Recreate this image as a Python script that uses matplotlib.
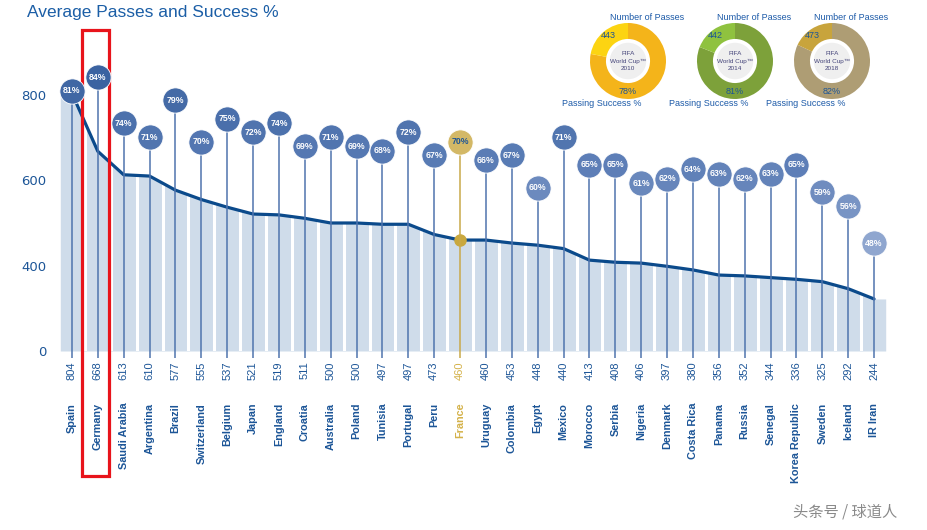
import numpy as np
import matplotlib
matplotlib.use('Agg')
import matplotlib.pyplot as plt
import matplotlib.patches as patches
import matplotlib.transforms as mtransforms
from matplotlib.colors import LinearSegmentedColormap

# Chart data
countries = ['Spain', 'Germany', 'Saudi Arabia', 'Argentina', 'Brazil', 'Switzerland',
             'Belgium', 'Japan', 'England', 'Croatia', 'Australia', 'Poland', 'Tunisia',
             'Portugal', 'Peru', 'France', 'Uruguay', 'Colombia', 'Egypt', 'Mexico',
             'Morocco', 'Serbia', 'Nigeria', 'Denmark', 'Costa Rica', 'Panama', 'Russia',
             'Senegal', 'Korea Republic', 'Sweden', 'Iceland', 'IR Iran']
passes = [804, 668, 613, 610, 577, 555, 537, 521, 519, 511, 500, 500, 497, 497, 473, 460,
          460, 453, 448, 440, 413, 408, 406, 397, 380, 356, 352, 344, 336, 325, 292, 244]
success = [81, 84, 74, 71, 79, 70, 75, 72, 74, 69, 71, 69, 68, 72, 67, 70,
           66, 67, 60, 71, 65, 65, 61, 62, 64, 63, 62, 63, 65, 59, 56, 48]
y_ticks = [0, 400, 600, 800]

# World Cup summary donuts
cups = ['2010', '2014', '2018']
cup_passes = ['443', '442', '473']
cup_success = [78, 81, 82]
cup_colors = [('#f4b41a', '#fcd412'), ('#7da13a', '#8fc23f'), ('#ae9d74', '#c8a43c')]

highlight = 'France'
boxed = 'Germany'

W, H = 928, 530
BLUE = '#1c5597'
GOLD = '#d3b866'


def fx(x):
    return x / W


def fy(y):
    return 1 - y / H


# piecewise axis: 0-400 squeezed to same spacing as 200 steps
def fwd(v):
    v = np.asarray(v, dtype=float)
    return np.where(v < 400, v / 400, 1 + (v - 400) / 200)


def inv(u):
    u = np.asarray(u, dtype=float)
    return np.where(u < 1, u * 400, 400 + (u - 1) * 200)


fig = plt.figure(figsize=(W / 100, H / 100), dpi=100)
ax = fig.add_axes([fx(59), fy(351), 828 / W, 291 / H])
ax.set_yscale('function', functions=(fwd, inv))

x = np.arange(len(countries))
n = len(countries)

# area under the line, cut into columns by white gaps
xs = np.concatenate([[-0.45], x, [n - 0.55]])
ys = np.concatenate([[passes[0]], passes, [passes[-1]]])
ax.fill_between(xs, 0, ys, color='#cfdcea', lw=0, zorder=1)
ax.vlines(x[:-1] + 0.5, 0, 900, color='white', lw=2.2, zorder=2)
ax.plot(x, passes, color='#0b4a8b', lw=2.3, zorder=3, solid_capstyle='round')

fi = countries.index(highlight)
ax.plot(fi, passes[fi], 'o', color='#c9a83e', ms=8, zorder=6)

ax.set_xlim(-0.5, n - 0.5)
ax.set_ylim(0, 882)
ax.set_yticks(y_ticks)
ax.set_yticklabels([str(t) for t in y_ticks], color=BLUE, fontsize=9.5)
ax.tick_params(axis='y', length=0, pad=9)
ax.set_xticks([])
for s in ax.spines.values():
    s.set_visible(False)

# bubbles with passing success
ax2 = ax.twinx()
ax2.set_ylim(24.6, 87.7)
ax2.set_yticks([])
for s in ax2.spines.values():
    s.set_visible(False)

cmap = LinearSegmentedColormap.from_list('b', ['#8fa6cf', '#5a7cb5', '#3b63a1'])
for i, p in enumerate(success):
    if countries[i] == highlight:
        fc, sc, tc = GOLD, '#c9a94a', BLUE
    else:
        fc = cmap((p - 48) / (84 - 48))
        sc, tc = '#4f74ad', 'white'
    ax2.vlines(i, 23.0, p, color=sc, lw=1.1, zorder=4, clip_on=False)
    ax2.scatter(i, p, s=330, color=fc, edgecolor='white', lw=0.6, zorder=5, clip_on=False)
    ax2.text(i, p, f'{p}%', ha='center', va='center', color=tc, fontsize=6.3,
             fontweight='bold', zorder=6, family='Liberation Sans')

# value and country labels under the columns
tr = ax.get_xaxis_transform()
for i, (c, v) in enumerate(zip(countries, passes)):
    col = '#d4b24a' if c == highlight else BLUE
    ax.text(i, -0.035, str(v), transform=tr, rotation=90, ha='center', va='top',
            color=col, fontsize=8, family='Liberation Sans')
    ax.text(i, -0.178, c, transform=tr, rotation=90, ha='center', va='top',
            color=col, fontsize=7.8, fontweight='bold', family='Liberation Sans')

# red box around Germany
bi = countries.index(boxed)
box = patches.Rectangle((bi - 0.6, -0.43), 1.05, 1.533, transform=tr, fill=False,
                        edgecolor='#e8141b', lw=2.3, clip_on=False, zorder=10)
ax.add_patch(box)

# title
fig.text(fx(27), fy(13), 'Average Passes and Success %', color='#1b5ea6',
         fontsize=12.5, va='center', ha='left', family='Liberation Sans')

# donuts
centers = [628, 735, 832]
r = 38
for cx, cup, cp, cs, (big, small) in zip(centers, cups, cup_passes, cup_success, cup_colors):
    cy = 61
    axd = fig.add_axes([fx(cx - r), fy(cy + r), 2 * r / W, 2 * r / H])
    axd.pie([cs, 100 - cs], colors=[big, small], startangle=90, counterclock=False,
            radius=1, wedgeprops=dict(width=0.42, linewidth=0))
    axd.add_patch(patches.Circle((0, 0), 0.48, color='#efefef', lw=0))
    axd.set_xlim(-1, 1)
    axd.set_ylim(-1, 1)
    axd.set_aspect('equal')
    axd.axis('off')
    axd.text(0, 0, f'FIFA\nWorld Cup™\n{cup}', ha='center', va='center', fontsize=4.6,
             color='#45457a', linespacing=1.5, family='Liberation Sans')
    ang = np.deg2rad(124)
    axd.text(0.92 * np.cos(ang), 0.8 * np.sin(ang), cp, ha='center', va='center',
             fontsize=6.5, color=BLUE, family='Liberation Sans')
    axd.text(0, -0.8, f'{cs}%', ha='center', va='center', fontsize=6.5, color=BLUE,
             family='Liberation Sans')
    fig.text(fx(cx + 19), fy(17), 'Number of Passes', ha='center', va='center',
             fontsize=6.5, color='#1c5aa8', family='Liberation Sans')
    fig.text(fx(cx - 26), fy(103), 'Passing Success %', ha='center', va='center',
             fontsize=6.5, color='#1c5aa8', family='Liberation Sans')

# watermark
fig.text(fx(845), fy(512), '头条号 / 球道人', ha='center', va='center', fontsize=11,
         color='#8a8a8a', family=['Noto Sans CJK SC', 'DejaVu Sans'])

fig.savefig('out.png', dpi=100)
